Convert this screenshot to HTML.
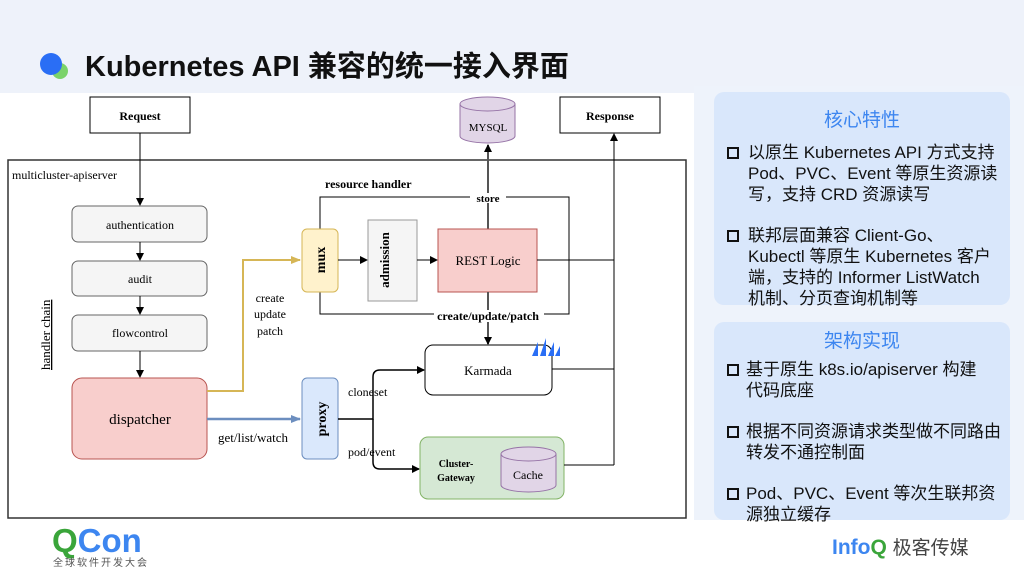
<!DOCTYPE html>
<html><head><meta charset="utf-8"><style>
body{margin:0;width:1024px;height:576px;overflow:hidden;background:#fff;font-family:"Liberation Sans","Noto Sans CJK SC",sans-serif;position:relative}
.hdr{position:absolute;left:0;top:0;width:1024px;height:93px;background:#eef2fa}
.title{position:absolute;left:85px;top:43px;font-size:29px;font-weight:bold;color:#111;white-space:nowrap}
.rp{position:absolute;left:694px;top:86px;width:330px;height:434px;background:#eef3fb}
.card{position:absolute;left:714px;width:296px;background:#d9e7fb;border-radius:10px}
.card h3{margin:0;text-align:center;color:#3d86f0;font-size:19px;font-weight:normal}
.item{position:relative;padding-left:34px;font-size:17px;line-height:21px;color:#111;white-space:nowrap}
.item:before{content:"";position:absolute;left:13px;top:5px;width:8px;height:8px;border:2px solid #111}
</style></head><body>
<div class="hdr"></div>
<svg style="position:absolute;left:36px;top:48px" width="40" height="36"><circle cx="24" cy="23" r="8" fill="#7bd36a"/><circle cx="15" cy="16" r="11" fill="#2a6ef5"/></svg>
<div class="title">Kubernetes API 兼容的统一接入界面</div>
<div class="rp"></div>
<div class="card" style="top:92px;height:213px">
<h3 style="padding-top:13px;padding-bottom:10px">核心特性</h3>
<div class="item">以原生 Kubernetes API 方式支持<br>Pod、PVC、Event 等原生资源读<br>写，支持 CRD 资源读写</div>
<div class="item" style="margin-top:20px">联邦层面兼容 Client-Go、<br>Kubectl 等原生 Kubernetes 客户<br>端，支持的 Informer ListWatch<br>机制、分页查询机制等</div>
</div>
<div class="card" style="top:322px;height:198px">
<h3 style="padding-top:4px;padding-bottom:6px">架构实现</h3>
<div class="item" style="padding-left:32px">基于原生 k8s.io/apiserver 构建<br>代码底座</div>
<div class="item" style="margin-top:20px;padding-left:32px">根据不同资源请求类型做不同路由<br>转发不通控制面</div>
<div class="item" style="margin-top:20px;padding-left:32px">Pod、PVC、Event 等次生联邦资<br>源独立缓存</div>
</div>
<svg style="position:absolute;left:0;top:0" width="694" height="576" font-family="Liberation Serif,serif" font-size="12">
<defs><marker id="a" markerWidth="8" markerHeight="8" refX="7" refY="4" orient="auto" markerUnits="userSpaceOnUse"><path d="M0,0L8,4L0,8z" fill="#000"/></marker>
<marker id="b" markerWidth="10" markerHeight="8" refX="9" refY="4" orient="auto" markerUnits="userSpaceOnUse"><path d="M0,0L10,4L0,8z" fill="#6c8ebf"/></marker>
<marker id="y" markerWidth="10" markerHeight="8" refX="9" refY="4" orient="auto" markerUnits="userSpaceOnUse"><path d="M0,0L10,4L0,8z" fill="#d6b656"/></marker></defs>
<rect x="90" y="97" width="100" height="36" fill="#fff" stroke="#000"/>
<text x="140" y="120" text-anchor="middle" font-weight="bold">Request</text>
<rect x="560" y="97" width="100" height="36" fill="#fff" stroke="#000"/>
<text x="610" y="120" text-anchor="middle" font-weight="bold">Response</text>
<rect x="8" y="160" width="678" height="358" fill="none" stroke="#333" stroke-width="1.5"/>
<text x="12" y="179">multicluster-apiserver</text>
<line x1="140" y1="133" x2="140" y2="205" stroke="#000" marker-end="url(#a)"/>
<g fill="#f5f5f5" stroke="#666"><rect x="72" y="206" width="135" height="36" rx="6"/><rect x="72" y="261" width="135" height="35" rx="6"/><rect x="72" y="315" width="135" height="36" rx="6"/></g>
<text x="140" y="229" text-anchor="middle">authentication</text>
<text x="140" y="283" text-anchor="middle">audit</text>
<text x="140" y="337" text-anchor="middle">flowcontrol</text>
<line x1="140" y1="242" x2="140" y2="260" stroke="#000" marker-end="url(#a)"/>
<line x1="140" y1="296" x2="140" y2="314" stroke="#000" marker-end="url(#a)"/>
<line x1="140" y1="351" x2="140" y2="377" stroke="#000" marker-end="url(#a)"/>
<rect x="72" y="378" width="135" height="81" rx="10" fill="#f8cecc" stroke="#b85450"/>
<text x="140" y="424" text-anchor="middle" font-size="15">dispatcher</text>
<text transform="translate(50,370) rotate(-90)" font-size="13" text-decoration="underline">handler chain</text>
<polyline points="207,391 243,391 243,260 300,260" fill="none" stroke="#d6b656" stroke-width="2" marker-end="url(#y)"/>
<line x1="207" y1="419" x2="300" y2="419" stroke="#6c8ebf" stroke-width="2.5" marker-end="url(#b)"/>
<text x="270" y="302" text-anchor="middle">create</text><text x="270" y="318" text-anchor="middle">update</text><text x="270" y="335" text-anchor="middle">patch</text>
<text x="218" y="442" font-size="13">get/list/watch</text>
<polyline points="320,229 320,197 569,197 569,314 320,314 320,292" fill="none" stroke="#000"/>
<text x="325" y="188" font-weight="bold">resource handler</text>
<line x1="488" y1="229" x2="488" y2="145" stroke="#555" stroke-width="2" marker-end="url(#a)"/>
<rect x="470" y="193" width="36" height="10" fill="#fff"/>
<text x="488" y="202" text-anchor="middle" font-weight="bold" font-size="11">store</text>
<path d="M460,104 a27.5,7 0 0 1 55,0 v32 a27.5,7 0 0 1 -55,0z" fill="#e1d5e7" stroke="#9673a6"/>
<path d="M460,104 a27.5,7 0 0 0 55,0" fill="none" stroke="#9673a6"/>
<text x="488" y="131" text-anchor="middle" font-size="11">MYSQL</text>
<rect x="302" y="229" width="36" height="63" rx="5" fill="#fff2cc" stroke="#d6b656"/>
<text transform="translate(325,260) rotate(-90)" text-anchor="middle" font-weight="bold" font-size="14">mux</text>
<line x1="338" y1="260" x2="367" y2="260" stroke="#000" marker-end="url(#a)"/>
<rect x="368" y="220" width="49" height="81" fill="#f5f5f5" stroke="#999"/>
<text transform="translate(389,260) rotate(-90)" text-anchor="middle" font-weight="bold" font-size="13">admission</text>
<line x1="417" y1="260" x2="437" y2="260" stroke="#000" marker-end="url(#a)"/>
<rect x="438" y="229" width="99" height="63" fill="#f8cecc" stroke="#b85450"/>
<text x="488" y="265" text-anchor="middle" font-size="13">REST Logic</text>
<line x1="537" y1="260" x2="614" y2="260" stroke="#000"/>
<line x1="614" y1="465" x2="614" y2="134" stroke="#000" marker-end="url(#a)"/>
<line x1="488" y1="292" x2="488" y2="344" stroke="#555" stroke-width="2" marker-end="url(#a)"/>
<rect x="434" y="310" width="110" height="12" fill="#fff"/>
<text x="488" y="320" text-anchor="middle" font-weight="bold">create/update/patch</text>
<rect x="425" y="345" width="127" height="50" rx="8" fill="#fff" stroke="#000"/>
<text x="488" y="375" text-anchor="middle" font-size="13">Karmada</text>
<g fill="#2a6ef5"><path d="M532,356 l6,-14 v14z"/><path d="M540,356 l6,-18 v18z"/><path d="M548,356 l6,-14 v14z"/><path d="M555,356 l5,-10 v10z"/></g>
<line x1="552" y1="369" x2="614" y2="369" stroke="#000"/>
<rect x="302" y="378" width="36" height="81" rx="5" fill="#dae8fc" stroke="#6c8ebf"/>
<text transform="translate(326,419) rotate(-90)" text-anchor="middle" font-weight="bold" font-size="14">proxy</text>
<path d="M338,419 H373 V377 Q373,370 380,370 H424" fill="none" stroke="#000" stroke-width="1.5" marker-end="url(#a)"/>
<path d="M373,419 V462 Q373,469 380,469 H419" fill="none" stroke="#000" stroke-width="1.5" marker-end="url(#a)"/>
<text x="348" y="396">cloneset</text>
<text x="348" y="456">pod/event</text>
<rect x="420" y="437" width="144" height="62" rx="8" fill="#d5e8d4" stroke="#82b366"/>
<text x="456" y="467" text-anchor="middle" font-weight="bold" font-size="10">Cluster-</text>
<text x="456" y="481" text-anchor="middle" font-weight="bold" font-size="10">Gateway</text>
<path d="M501,454 a27.5,7 0 0 1 55,0 v31 a27.5,7 0 0 1 -55,0z" fill="#e1d5e7" stroke="#9673a6"/>
<path d="M501,454 a27.5,7 0 0 0 55,0" fill="none" stroke="#9673a6"/>
<text x="528" y="479" text-anchor="middle">Cache</text>
<line x1="564" y1="465" x2="614" y2="465" stroke="#000"/>
<text x="52" y="552" font-family="Liberation Sans,sans-serif" font-weight="bold" font-size="33" fill="#3aa53a">Q<tspan fill="#3d86f0">Con</tspan></text>
<text x="53" y="566" font-family="Liberation Sans,Noto Sans CJK SC,sans-serif" font-size="10" fill="#555" letter-spacing="2">全球软件开发大会</text>
</svg>
<div style="position:absolute;left:832px;top:533px;font-size:21px;font-weight:bold;color:#3d86f0;white-space:nowrap">Info<span style="color:#3aa53a">Q</span> <span style="font-weight:normal;color:#444;font-size:19px">极客传媒</span></div>
</body></html>
